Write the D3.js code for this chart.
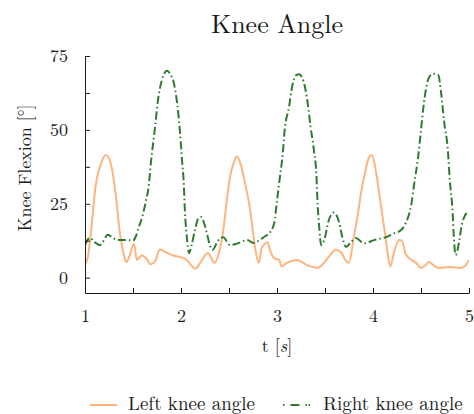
<!DOCTYPE html>
<html>
<head>
<meta charset="utf-8">
<script src="https://cdn.jsdelivr.net/npm/d3@7"></script>
<style>
  body { margin: 0; background: #fff; }
</style>
</head>
<body>
<div id="chart"></div>
<script>
// left knee (solid orange)
let leftT = [1.0, 1.03, 1.07, 1.11, 1.16, 1.22, 1.28, 1.32, 1.36, 1.41, 1.43, 1.46, 1.51, 1.54, 1.59, 1.65, 1.68, 1.73, 1.78, 1.85, 1.92, 1.99, 2.06, 2.11, 2.15, 2.2, 2.28, 2.35, 2.4, 2.44, 2.48, 2.51, 2.55, 2.58, 2.625, 2.66, 2.72, 2.77, 2.81, 2.84, 2.875, 2.9, 2.93, 2.97, 3.02, 3.05, 3.1, 3.21, 3.31, 3.42, 3.49, 3.55, 3.61, 3.67, 3.71, 3.75, 3.8, 3.84, 3.875, 3.92, 3.96, 3.99, 4.03, 4.08, 4.135, 4.18, 4.22, 4.27, 4.3, 4.34, 4.4, 4.45, 4.5, 4.54, 4.58, 4.64, 4.68, 4.81, 4.92, 4.96, 5.0]
let leftAngle = [4.5, 7, 18, 31, 38, 41.5, 37, 28, 16, 7, 5.3, 7, 11.5, 6, 7.5, 6, 4.5, 5.5, 9.5, 8.5, 7.5, 7, 6, 4, 3, 5, 8.3, 5, 9, 16, 27, 34, 39, 41, 38, 33, 23, 10.5, 5, 10, 11.5, 12, 9, 6.6, 6, 3.8, 5, 6, 4.3, 3.3, 5, 7.5, 9.4, 8.5, 6, 5, 13.7, 21, 28.6, 36, 40.8, 41.5, 36, 25, 12.7, 3.8, 8.7, 12.7, 12.5, 8, 6, 5, 3.3, 4, 5.3, 4, 3.3, 3.6, 3.3, 4, 6]

// right knee (dash-dot green)
let rightT = [1.0, 1.05, 1.1, 1.156, 1.24, 1.29, 1.375, 1.45, 1.5, 1.53, 1.56, 1.6, 1.635, 1.66, 1.69, 1.73, 1.76, 1.8, 1.855, 1.885, 1.92, 1.96, 1.99, 2.01, 2.03, 2.04, 2.06, 2.085, 2.11, 2.145, 2.18, 2.21, 2.24, 2.27, 2.3, 2.33, 2.385, 2.44, 2.51, 2.59, 2.69, 2.76, 2.82, 2.875, 2.92, 2.97, 3.0, 3.03, 3.06, 3.08, 3.125, 3.16, 3.2, 3.23, 3.28, 3.32, 3.35, 3.385, 3.41, 3.42, 3.44, 3.46, 3.49, 3.54, 3.59, 3.65, 3.68, 3.72, 3.77, 3.82, 3.91, 4.01, 4.135, 4.22, 4.29, 4.34, 4.4, 4.43, 4.47, 4.5, 4.53, 4.58, 4.625, 4.68, 4.71, 4.74, 4.78, 4.8, 4.83, 4.84, 4.86, 4.9, 4.92, 4.95, 4.98]
let rightAngle = [11, 13.5, 12, 11, 14.5, 13.4, 12.7, 12.7, 12.5, 14, 17, 21, 26, 30, 40, 51, 60, 66.7, 70, 69, 66.5, 59, 49, 40, 31, 23, 14, 8.3, 11, 16, 20, 20.5, 18.5, 15, 11, 9.4, 12.5, 13.7, 11, 11.6, 12.7, 11.7, 12.7, 14, 15, 18.4, 26, 34, 42, 50, 57.7, 65, 68.5, 68.8, 66, 59, 51, 43, 35, 27, 17, 11, 12.5, 19.5, 22, 18.4, 13.7, 10.4, 12, 13.4, 11.6, 12.7, 13.7, 15, 16, 18.4, 25, 32, 40.8, 50, 59, 67.5, 69, 68.5, 62.4, 53, 43, 33, 21.8, 15, 7.7, 12.7, 17, 20.5, 22]

let xTicks = [1, 1.5, 2, 2.5, 3, 3.5, 4, 4.5, 5]
let yTicks = [0, 12.5, 25, 37.5, 50, 62.5, 75]
let seriesNames = ["Left knee angle", "Right knee angle"]

let width = 474, height = 414
let margin = {top: 56, right: 5, bottom: 121, left: 85}
let font = "'Latin Modern Roman', 'Liberation Serif', serif"
let ink = "#1a1a1a"
let orange = "#fdb47d", green = "#2e7a2e"

let svg = d3.select("#chart")
    .append("svg")
    .attr("width", width)
    .attr("height", height)

let x = d3.scaleLinear().domain([1, 5]).range([margin.left, width - margin.right])
let y = d3.scaleLinear().domain([-5.2, 75]).range([height - margin.bottom, margin.top])

let leftData = leftT.map((t, i) => ({t: t, v: leftAngle[i]}))
let rightData = rightT.map((t, i) => ({t: t, v: rightAngle[i]}))

let line = d3.line()
    .x(d => x(d.t))
    .y(d => y(d.v))
    .curve(d3.curveMonotoneX)

svg.append("defs").append("clipPath").attr("id", "plot-clip")
    .append("rect")
    .attr("x", margin.left).attr("y", margin.top - 5)
    .attr("width", width - margin.left - margin.right)
    .attr("height", height - margin.top - margin.bottom + 5)

let plot = svg.append("g").attr("clip-path", "url(#plot-clip)")

plot.append("path")
    .datum(leftData)
    .attr("d", line)
    .attr("fill", "none")
    .attr("stroke", orange)
    .attr("stroke-width", 2)

plot.append("path")
    .datum(rightData)
    .attr("d", line)
    .attr("fill", "none")
    .attr("stroke", green)
    .attr("stroke-width", 2)
    .attr("stroke-dasharray", "8,3,1.5,3")

// axes, ticks pointing inward
let xAxis = d3.axisBottom(x)
    .tickValues(xTicks)
    .tickSizeInner(-5)
    .tickSizeOuter(0)
    .tickPadding(16)
    .tickFormat(d => Number.isInteger(d) ? d : "")

let yAxis = d3.axisLeft(y)
    .tickValues(yTicks)
    .tickSizeInner(-5)
    .tickSizeOuter(0)
    .tickPadding(17)
    .tickFormat(d => d % 25 == 0 ? d : "")

let gx = svg.append("g")
    .attr("transform", "translate(0," + y.range()[0] + ")")
    .call(xAxis)
let gy = svg.append("g")
    .attr("transform", "translate(" + margin.left + ",0)")
    .call(yAxis)

svg.selectAll(".tick text")
    .style("font-family", font)
    .style("font-size", "18px")
    .attr("fill", ink)
svg.selectAll(".domain").attr("stroke", ink)
svg.selectAll(".tick line").attr("stroke", ink)

// titles
svg.append("text")
    .attr("x", 277)
    .attr("y", 33)
    .attr("text-anchor", "middle")
    .style("font-family", font)
    .style("font-size", "26px")
    .attr("fill", ink)
    .text("Knee Angle")

let xLabel = svg.append("text")
    .attr("x", 277)
    .attr("y", 352)
    .attr("text-anchor", "middle")
    .style("font-family", font)
    .style("font-size", "18px")
    .attr("fill", ink)
xLabel.append("tspan").text("t [")
xLabel.append("tspan").style("font-style", "italic").text("s")
xLabel.append("tspan").text("]")

svg.append("text")
    .attr("transform", "translate(31,168) rotate(-90)")
    .attr("text-anchor", "middle")
    .style("font-family", font)
    .style("font-size", "18px")
    .attr("fill", ink)
    .text("Knee Flexion [°]")

// legend
let legend = svg.append("g")
    .style("font-family", font)
    .style("font-size", "19px")
legend.append("line")
    .attr("x1", 90).attr("x2", 117).attr("y1", 405).attr("y2", 405)
    .attr("stroke", orange).attr("stroke-width", 2)
legend.append("text")
    .attr("x", 128).attr("y", 410)
    .attr("fill", ink)
    .text(seriesNames[0])
legend.append("line")
    .attr("x1", 283).attr("x2", 310).attr("y1", 405).attr("y2", 405)
    .attr("stroke", green).attr("stroke-width", 2)
    .attr("stroke-dasharray", "1.5,6,9,6,1.5")
legend.append("text")
    .attr("x", 323).attr("y", 410)
    .attr("fill", ink)
    .text(seriesNames[1])
</script>
</body>
</html>
